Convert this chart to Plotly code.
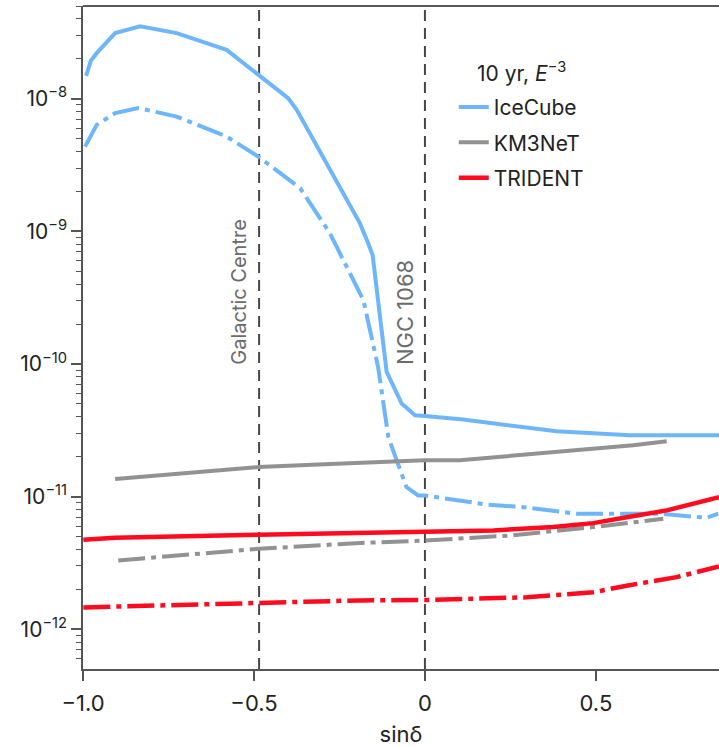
import plotly.graph_objects as go

# Sensitivity curves vs sin(declination), 10 yr, E^-3 spectrum
icecube_x = [-0.991, -0.977, -0.960, -0.906, -0.833, -0.726, -0.580, -0.487, -0.400, -0.375,
             -0.190, -0.166, -0.153, -0.112, -0.068, -0.029, 0.0, 0.112, 0.385, 0.599, 0.86]
icecube_y = [1.49e-8, 1.94e-8, 2.21e-8, 3.13e-8, 3.52e-8, 3.13e-8, 2.34e-8, 1.52e-8, 1.01e-8, 8.26e-9,
             1.15e-9, 8.13e-10, 6.64e-10, 8.71e-11, 5.03e-11, 4.10e-11, 4.06e-11, 3.81e-11, 3.11e-11, 2.90e-11, 2.90e-11]

icecube_dp_x = [-0.994, -0.960, -0.906, -0.838, -0.726, -0.580, -0.487, -0.365, -0.278, -0.180,
                -0.137, -0.107, -0.063, -0.054, -0.020, 0.0, 0.180, 0.287, 0.444, 0.687, 0.824, 0.858]
icecube_dp_y = [4.36e-9, 6.37e-9, 7.80e-9, 8.51e-9, 7.35e-9, 5.19e-9, 3.66e-9, 2.12e-9, 9.68e-10, 3.03e-10,
                9.51e-11, 2.81e-11, 1.36e-11, 1.18e-11, 1.02e-11, 1.02e-11, 8.72e-12, 8.33e-12, 7.43e-12, 7.43e-12, 6.93e-12, 7.43e-12]

km3net_x = [-0.906, -0.487, -0.258, 0.0, 0.102, 0.385, 0.609, 0.707]
km3net_y = [1.36e-11, 1.67e-11, 1.77e-11, 1.88e-11, 1.88e-11, 2.17e-11, 2.44e-11, 2.62e-11]

km3net_dp_x = [-0.897, -0.487, -0.190, 0.0, 0.249, 0.492, 0.697]
km3net_dp_y = [3.30e-12, 4.04e-12, 4.47e-12, 4.66e-12, 5.09e-12, 5.89e-12, 6.81e-12]

trident_x = [-0.999, -0.906, -0.487, -0.190, 0.0, 0.200, 0.375, 0.492, 0.590, 0.707, 0.86]
trident_y = [4.72e-12, 4.89e-12, 5.16e-12, 5.30e-12, 5.39e-12, 5.56e-12, 5.89e-12, 6.31e-12, 7.00e-12, 7.87e-12, 9.91e-12]

trident_dp_x = [-0.999, -0.487, -0.190, 0.0, 0.297, 0.492, 0.590, 0.736, 0.86]
trident_dp_y = [1.46e-12, 1.58e-12, 1.65e-12, 1.66e-12, 1.74e-12, 1.90e-12, 2.13e-12, 2.47e-12, 2.97e-12]

# Source positions (sin δ) and label sizes
source_names = ["Galactic Centre", "NGC 1068"]
source_sindec = [-0.485, 0.0]
source_fontsize = [20, 22]

major_exps = [-12, -11, -10, -9, -8]
tick_text = ["10<sup>−%d</sup>" % (-e) for e in major_exps]

BLUE = "#6db6fb"
GREY = "#929292"
RED = "#ff0a1e"
DASHDOT = "27px,6px,5px,6px"
FONT = "Inter"
INK = "#222222"

fig = go.Figure()

series = [
    ("IceCube", icecube_x, icecube_y, icecube_dp_x, icecube_dp_y, BLUE, 4),
    ("KM3NeT", km3net_x, km3net_y, km3net_dp_x, km3net_dp_y, GREY, 4),
    ("TRIDENT", trident_x, trident_y, trident_dp_x, trident_dp_y, RED, 4.5),
]
for name, sx, sy, dx, dy, col, lw in series:
    fig.add_trace(go.Scatter(x=dx, y=dy, mode="lines", showlegend=False, legendgroup=name,
                             line=dict(color=col, width=lw, dash=DASHDOT)))
    fig.add_trace(go.Scatter(x=sx, y=sy, mode="lines", name=name, legendgroup=name,
                             line=dict(color=col, width=lw)))

for label, sd, fs in zip(source_names, source_sindec, source_fontsize):
    fig.add_shape(type="line", x0=sd, x1=sd, xref="x", y0=0, y1=0.994, yref="paper",
                  line=dict(color="#474747", width=2, dash="11px,7px"), layer="below")
    fig.add_annotation(x=sd, y=-10.02, xref="x", yref="y", text=label, textangle=-90,
                       showarrow=False, xanchor="center", yanchor="bottom", xshift=-20,
                       font=dict(family=FONT, size=fs, color="#6b6b6b"))

# top border
fig.add_shape(type="line", xref="paper", yref="paper", x0=0, x1=1, y0=1, y1=1,
              line=dict(color=INK, width=1.5))

# legend heading
fig.add_annotation(x=0.69, y=0.90, xref="paper", yref="paper", showarrow=False,
                   text="10 yr, <i>E</i><sup>−3</sup>", xanchor="center", yanchor="middle",
                   font=dict(family=FONT, size=21, color=INK))

minor_vals = [m * 10.0 ** e for e in range(-13, -7) for m in range(2, 10)]

fig.update_layout(
    width=719, height=747,
    margin=dict(l=83, r=0, t=6, b=78),
    plot_bgcolor="white", paper_bgcolor="white",
    font=dict(family=FONT, size=21, color=INK),
    showlegend=True,
    legend=dict(
        x=0.583, y=0.878, xanchor="left", yanchor="top",
        font=dict(family=FONT, size=21, color=INK),
        tracegroupgap=5, bgcolor="rgba(0,0,0,0)",
    ),
    xaxis=dict(
        range=[-1.0, 0.86], showline=True, linecolor="#555555", linewidth=1.5,
        ticks="outside", ticklen=10, tickwidth=1.5, tickcolor="#555555",
        tickvals=[-1.0, -0.5, 0, 0.5], ticktext=["−1.0", "−0.5", "0", "0.5"],
        ticklabelstandoff=4,
        showgrid=False, zeroline=False,
        title=dict(text="sinδ", font=dict(family=FONT, size=22), standoff=12),
        tickfont=dict(family=FONT, size=22),
    ),
    yaxis=dict(
        type="log", range=[-12.30, -7.30], showline=True, linecolor="#555555", linewidth=1.5,
        ticks="outside", ticklen=10, tickwidth=1.5, tickcolor="#555555",
        tickvals=[10.0 ** e for e in major_exps], ticktext=tick_text,
        minor=dict(tickvals=minor_vals, ticks="outside", ticklen=5, tickwidth=1.2,
                   tickcolor="#555555", showgrid=False),
        showgrid=False, zeroline=False, tickfont=dict(family=FONT, size=21),
    ),
)

fig.write_html("out.html")
